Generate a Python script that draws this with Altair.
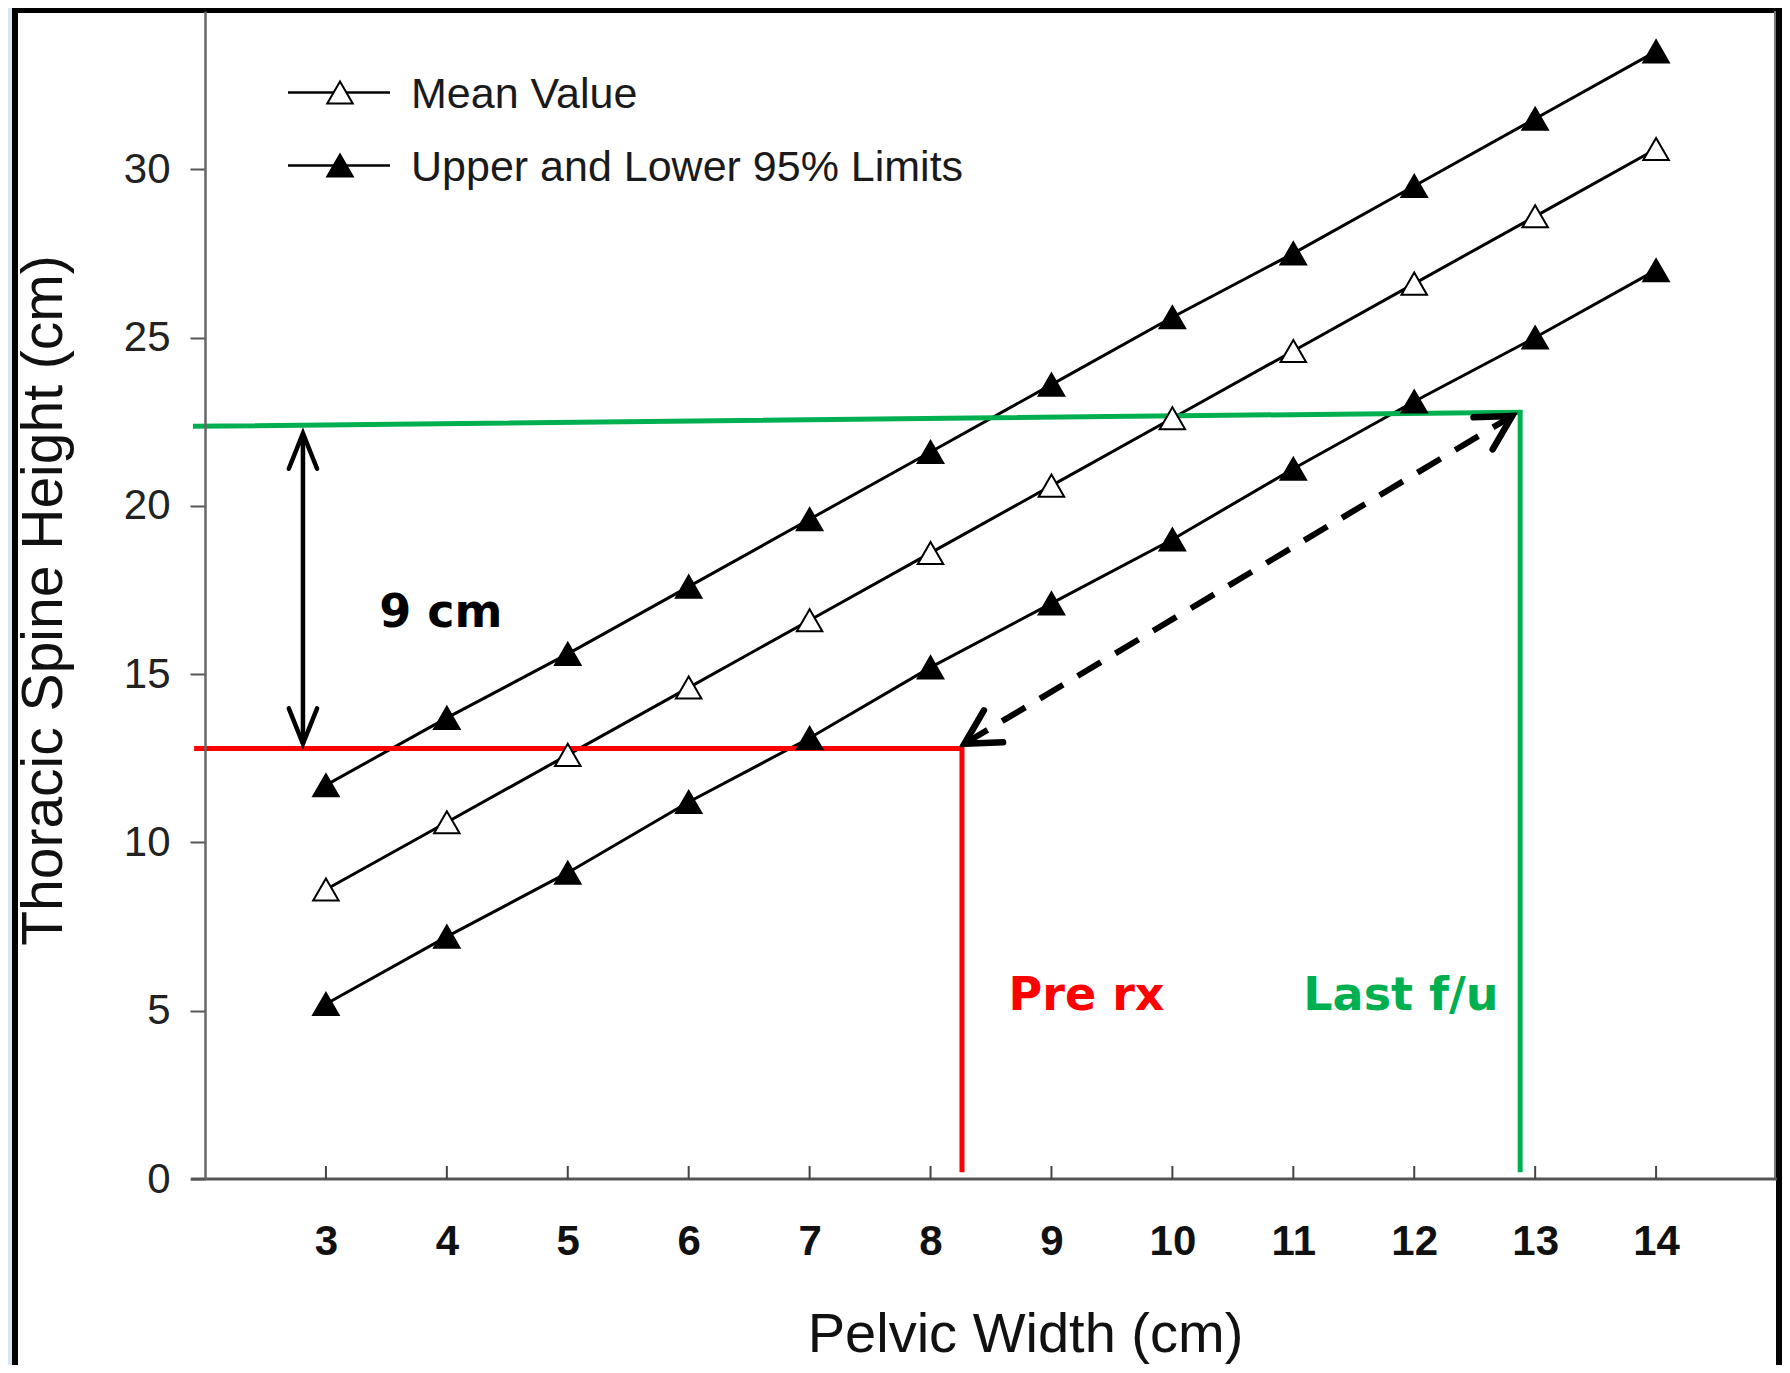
import math
import altair as alt
import pandas as pd

# ---------------- data ----------------
pelvic_width = [3, 4, 5, 6, 7, 8, 9, 10, 11, 12, 13, 14]
mean_value = [8.6, 10.6, 12.6, 14.6, 16.6, 18.6, 20.6, 22.6, 24.6, 26.6, 28.6, 30.6]
upper_95 = [11.7, 13.7, 15.6, 17.6, 19.6, 21.6, 23.6, 25.6, 27.5, 29.5, 31.5, 33.5]
lower_95 = [5.2, 7.2, 9.1, 11.2, 13.1, 15.2, 17.1, 19.0, 21.1, 23.1, 25.0, 27.0]
y_ticks = [0, 5, 10, 15, 20, 25, 30]

# annotation geometry (data units)
green_x = [1.9, 12.876, 12.876]
green_y = [22.36, 22.78, 0.2]
red_x = [1.91, 8.26, 8.26]
red_y = [12.79, 12.79, 0.2]
vert_arrow_x = 2.81
vert_arrow_top, vert_arrow_bottom = 22.15, 12.93
dash_from = (8.28, 12.93)
dash_to = (12.81, 22.67)
texts = ["9 cm", "Pre rx", "Last f/u"]
text_x = [3.95, 9.29, 11.89]
text_y = [16.83, 5.44, 5.44]
text_col = ["black", "#ff0000", "#00b050"]
legend_labels = ["Mean Value", "Upper and Lower 95% Limits"]

# ---------------- layout ----------------
W, H = 1572, 1168
XD = [2, 15]
YD = [0, 34.7]
pxx = W / (XD[1] - XD[0])
pxy = H / (YD[1] - YD[0])
FONT = "Liberation Sans, Arial, sans-serif"
CFONT = "Comic Sans MS, DejaVu Sans, sans-serif"

rows = []
for name, kind, vals in [("Upper", "limit", upper_95), ("Mean", "mean", mean_value), ("Lower", "limit", lower_95)]:
    for xv, yv in zip(pelvic_width, vals):
        rows.append({"series": name, "x": xv, "y": yv, "fill": "white" if kind == "mean" else "black"})
df = pd.DataFrame(rows)

xenc = alt.X("x:Q", scale=alt.Scale(domain=XD, nice=False, zero=False),
             axis=alt.Axis(values=pelvic_width, format="d", ticks=False, domain=False, grid=False,
                           labelFontSize=42, labelFontWeight="bold", labelFont=FONT, labelColor="#111",
                           labelPadding=62, labelBaseline="middle",
                           title="Pelvic Width (cm)", titleFontSize=56, titleFont=FONT,
                           titleFontWeight="normal", titleColor="#111", titleX=820, titleY=172,
                           titleBaseline="alphabetic", titleAlign="center", zindex=1))
yenc = alt.Y("y:Q", scale=alt.Scale(domain=YD, nice=False, zero=False),
             axis=alt.Axis(values=y_ticks, grid=False, tickSize=15, tickWidth=2, tickColor="#555",
                           domainColor="#666", domainWidth=2.5,
                           labelFontSize=42, labelFont=FONT, labelColor="#222", labelPadding=20,
                           title="Thoracic Spine Height (cm)", titleFontSize=57, titleFont=FONT,
                           titleFontWeight="normal", titleColor="#111", titleX=-144, titleY=589,
                           titleAngle=270, titleAlign="center", titleBaseline="alphabetic", zindex=1))

one = pd.DataFrame({"k": [0]})

frame = alt.Chart(one).mark_rect(fill="white", stroke="black", strokeWidth=6).encode(
    x=alt.value(-190), x2=alt.value(1574), y=alt.value(-1), y2=alt.value(1500))

right_edge = alt.Chart(one).mark_rule(color="#777", strokeWidth=2).encode(
    x=alt.value(W - 2), y=alt.value(0), y2=alt.value(H))

lines = alt.Chart(df).mark_line(color="black", strokeWidth=3).encode(
    x=xenc, y=yenc, detail="series:N")

points = alt.Chart(df).mark_point(shape="triangle-up", size=650, filled=True, opacity=1,
                                  stroke="black", strokeWidth=2).encode(
    x="x:Q", y="y:Q", fill=alt.Fill("fill:N", scale=None))

# x-axis baseline and inward ticks
baseline = alt.Chart(one).mark_rule(color="#555", strokeWidth=3).encode(
    x=alt.value(-14), x2=alt.value(W), y=alt.value(H))
xticks = alt.Chart(pd.DataFrame({"x": pelvic_width})).mark_rule(color="#444", strokeWidth=2).encode(
    x="x:Q", y=alt.value(H), y2=alt.value(H - 13))

# green / red guide lines
guide_rows = []
for i, (a, b) in enumerate(zip(green_x, green_y)):
    guide_rows.append({"g": "green", "o": i, "x": a, "y": b, "c": "#00b050"})
for i, (a, b) in enumerate(zip(red_x, red_y)):
    guide_rows.append({"g": "red", "o": i, "x": a, "y": b, "c": "#ff0000"})
guides = alt.Chart(pd.DataFrame(guide_rows)).mark_line(strokeWidth=5, strokeJoin="miter").encode(
    x="x:Q", y="y:Q", detail="g:N", order="o:Q", color=alt.Color("c:N", scale=None))

# vertical double arrow
varrow = alt.Chart(pd.DataFrame({"x": [vert_arrow_x], "y": [vert_arrow_top], "y2": [vert_arrow_bottom]})).mark_rule(
    color="black", strokeWidth=4.5).encode(x="x:Q", y="y:Q", y2="y2:Q")
vheads = alt.Chart(pd.DataFrame({"x": [vert_arrow_x, vert_arrow_x], "y": [vert_arrow_top, vert_arrow_bottom],
                                 "a": [0, 180]})).mark_point(
    shape="M-0.4,1L0,0L0.4,1", filled=False, size=5000, strokeWidth=4.5, color="black",
    opacity=1, strokeCap="round").encode(x="x:Q", y="y:Q", angle=alt.Angle("a:Q", scale=None))

# dashed diagonal double arrow
ang = math.degrees(math.atan2((dash_to[0] - dash_from[0]) * pxx, (dash_to[1] - dash_from[1]) * pxy))
darrow = alt.Chart(pd.DataFrame({"x": [dash_from[0]], "y": [dash_from[1]], "x2": [dash_to[0]], "y2": [dash_to[1]]})).mark_rule(
    color="black", strokeWidth=6, strokeDash=[27, 17]).encode(x="x:Q", y="y:Q", x2="x2:Q", y2="y2:Q")
dheads = alt.Chart(pd.DataFrame({"x": [dash_from[0], dash_to[0]], "y": [dash_from[1], dash_to[1]],
                                 "a": [ang + 180, ang]})).mark_point(
    shape="M-0.55,1L0,0L0.55,1", filled=False, size=4600, strokeWidth=6.5, color="black",
    opacity=1, strokeCap="round").encode(x="x:Q", y="y:Q", angle=alt.Angle("a:Q", scale=None))

labels = alt.Chart(pd.DataFrame({"x": text_x, "y": text_y, "t": texts, "c": text_col})).mark_text(
    font=CFONT, fontWeight="bold", fontSize=46, align="center", baseline="middle").encode(
    x="x:Q", y="y:Q", text="t:N", color=alt.Color("c:N", scale=None))

# legend (hand built, line + triangle symbol)
legend_layers = []
for i, (lab, fc) in enumerate(zip(legend_labels, ["white", "black"])):
    ly = 81.5 + 73 * i
    d = pd.DataFrame({"t": [lab]})
    legend_layers.append(alt.Chart(d).mark_rule(color="black", strokeWidth=2.5).encode(
        x=alt.value(83), x2=alt.value(185), y=alt.value(ly)))
    legend_layers.append(alt.Chart(d).mark_point(shape="triangle-up", size=650, filled=True, fill=fc,
                                                 stroke="black", strokeWidth=2, opacity=1).encode(
        x=alt.value(135), y=alt.value(ly)))
    legend_layers.append(alt.Chart(d).mark_text(font=FONT, fontSize=43, align="left", baseline="middle",
                                                color="#1a1a1a").encode(
        x=alt.value(206), y=alt.value(ly + 2), text="t:N"))

chart = alt.layer(frame, right_edge, lines, guides, varrow, vheads, darrow, dheads, points, labels,
                  baseline, xticks, *legend_layers).properties(
    width=W, height=H,
    padding={"left": 197, "top": 3, "right": 5, "bottom": 186},
    autosize=alt.AutoSizeParams(type="none"),
    background="#dbe5f1",
).configure_view(stroke=None)

chart.save("out.html", embed_options={"renderer": "svg", "actions": False})
